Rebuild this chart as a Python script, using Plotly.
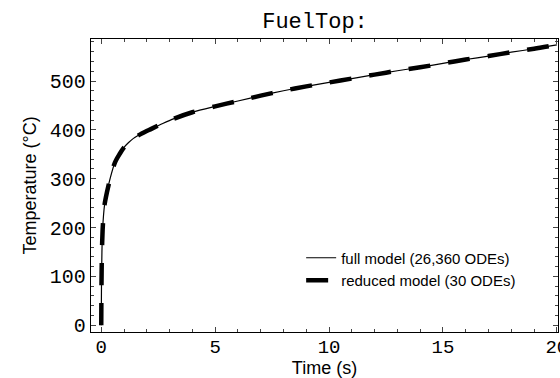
import plotly.graph_objects as go

time_s = [0, 0.01, 0.03, 0.06, 0.1, 0.15, 0.25, 0.4, 0.6, 0.8, 1.0, 1.2, 1.4, 1.8, 2.2,
          2.7, 3.2, 4.0, 5.0, 6.0, 7.0, 8.0, 9.0, 10.0, 11.0, 12.0, 13.0, 14.0, 15.0,
          16.0, 17.0, 18.0, 19.0, 20.0]
full_model = [0, 80, 150, 195, 225, 248, 272, 302, 333, 350, 364, 374, 382, 393, 402,
              413, 423, 436, 448, 459, 470, 480, 489, 497, 505, 513, 521, 528, 536,
              544, 551, 559, 566, 574]
reduced_model = list(full_model)

x_ticks = [0, 5, 10, 15, 20]
y_ticks = [0, 100, 200, 300, 400, 500]

fig = go.Figure()
fig.add_trace(go.Scatter(x=time_s, y=full_model, mode="lines", line_shape="spline",
                         line_smoothing=0.8,
                         name="full model (26,360 ODEs)",
                         line=dict(color="black", width=1.2)))
fig.add_trace(go.Scatter(x=time_s, y=reduced_model, mode="lines", line_shape="spline",
                         line_smoothing=0.8,
                         name="reduced model (30 ODEs)",
                         line=dict(color="black", width=4.5, dash="22px,18px")))

mono = "Liberation Mono, Courier New, monospace"
sans = "Liberation Sans Narrow, Liberation Sans, Arial"
fig.update_layout(
    width=560, height=378,
    margin=dict(l=91, r=2, t=39, b=46),
    paper_bgcolor="white", plot_bgcolor="white",
    title=dict(text="FuelTop:", x=0.5625, xanchor="center", y=0.947, yanchor="middle",
               font=dict(family=mono, size=22, color="black")),
    showlegend=True,
    legend=dict(x=0.45, y=0.215, xanchor="left", yanchor="middle", bgcolor="rgba(0,0,0,0)",
                font=dict(family=sans, size=15, color="black"),
                tracegroupgap=0, itemwidth=30),
    xaxis=dict(range=[-0.45, 20.05], tickvals=x_ticks, ticks="inside", ticklen=5,
               showline=True, linecolor="black", linewidth=1.3, mirror="allticks",
               showgrid=False, zeroline=False, ticklabeloverflow="allow",
               ticklabelstandoff=-3, automargin=False,
               tickfont=dict(family=mono, size=19, color="black"),
               minor=dict(ticks="inside", ticklen=2.5, dtick=1, showgrid=False),
               title=dict(text="Time (s)", standoff=6,
                          font=dict(family=sans, size=18, color="black"))),
    yaxis=dict(range=[-14, 586], tickvals=y_ticks, ticks="inside", ticklen=5,
               showline=True, linecolor="black", linewidth=1.3, mirror="allticks",
               showgrid=False, zeroline=False, automargin=False,
               tickfont=dict(family=mono, size=20, color="black"),
               minor=dict(ticks="inside", ticklen=2.5, dtick=20, showgrid=False),
               title=dict(text="Temperature (°C)", standoff=8,
                          font=dict(family=sans, size=18, color="black"))),
)

fig.write_html("out.html", config={"displayModeBar": False},
               post_script="document.body.style.margin='0';")
